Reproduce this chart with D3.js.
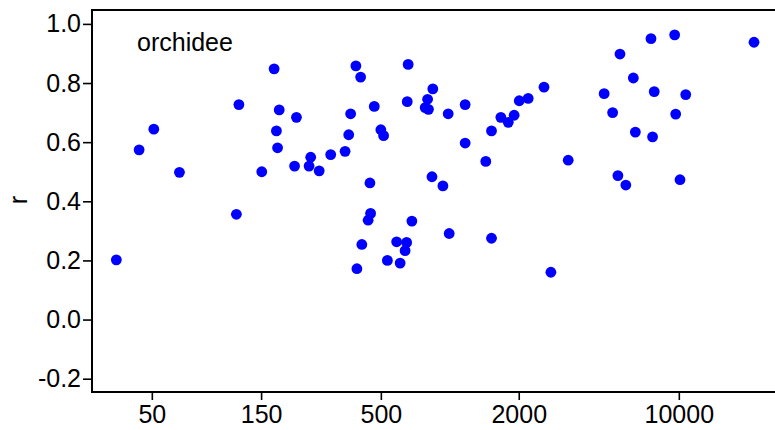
<!DOCTYPE html>
<meta charset="utf-8">
<style>
  body { margin: 0; background: #fff; }
  text { font-family: "Liberation Sans", Arial, sans-serif; fill: #000; }
</style>
<svg width="775" height="430"></svg>
<script src="https://d3js.org/d3.v7.min.js"></script>
<script>

// data (x on log scale)
var xVals = [35, 44, 51, 66, 117, 120, 151, 171, 175, 177, 180, 210, 214, 243, 247, 269, 302,
  349, 362, 369, 389, 393, 408, 413, 440, 448, 451, 468, 500, 514, 534, 586, 607, 638, 648,
  652, 658, 683, 781, 800, 807, 836, 843, 933, 984, 994, 1167, 1167, 1436, 1521, 1521, 1671,
  1800, 1910, 2010, 2199, 2578, 2763, 3289, 4720, 5140, 5420, 5534, 5870, 6330, 6460, 7559,
  7680, 7810, 9590, 9690, 10120, 10720, 21300];
var rVals = [0.202, 0.574, 0.644, 0.498, 0.356, 0.727, 0.500, 0.848, 0.638, 0.581, 0.709, 0.519,
  0.684, 0.519, 0.549, 0.503, 0.558, 0.569, 0.625, 0.696, 0.858, 0.172, 0.820, 0.254, 0.336,
  0.462, 0.359, 0.721, 0.642, 0.622, 0.200, 0.263, 0.191, 0.233, 0.261, 0.737, 0.863, 0.333,
  0.717, 0.745, 0.711, 0.483, 0.780, 0.452, 0.696, 0.291, 0.727, 0.597, 0.535, 0.638, 0.275,
  0.684, 0.667, 0.691, 0.740, 0.748, 0.786, 0.160, 0.539, 0.764, 0.700, 0.487, 0.898, 0.455,
  0.817, 0.634, 0.950, 0.618, 0.771, 0.963, 0.695, 0.473, 0.761, 0.938];
var xTicks = [50, 150, 500, 2000, 10000];
var yTicks = [-0.2, 0.0, 0.2, 0.4, 0.6, 0.8, 1.0];
var panelLabel = "orchidee";

var svg = d3.select("svg"),
    width = +svg.attr("width"),
    height = +svg.attr("height");

var pLeft = 92, pTop = 10, pBottom = 392, pRight = 775;

var x = d3.scaleLog().domain([27.4, 26300]).range([pLeft, pRight]);
var y = d3.scaleLinear().domain([-0.245, 1.047]).range([pBottom, pTop]);

// frame: left, bottom, top (right side is off the picture)
svg.append("path")
    .attr("d", "M" + pRight + "," + pTop + "H" + pLeft + "V" + pBottom + "H" + pRight)
    .attr("fill", "none")
    .attr("stroke", "#000")
    .attr("stroke-width", 2);

var yAxis = svg.append("g")
    .attr("transform", "translate(" + pLeft + ",0)")
    .call(d3.axisLeft(y).tickValues(yTicks).tickSize(9).tickPadding(2)
      .tickFormat(function(d) { return d3.format(".1f")(d).replace("−", "-"); }));
yAxis.select(".domain").remove();
yAxis.selectAll("line").attr("stroke-width", 1.6);
yAxis.selectAll("text").style("font-size", "25px").attr("font-family", null).attr("fill", null);

var xAxis = svg.append("g")
    .attr("transform", "translate(0," + pBottom + ")")
    .call(d3.axisBottom(x).tickValues(xTicks).tickSize(8).tickPadding(5)
      .tickFormat(d3.format("d")));
xAxis.select(".domain").remove();
xAxis.selectAll("line").attr("stroke-width", 1.6);
xAxis.selectAll("text").style("font-size", "25px").attr("font-family", null).attr("fill", null);

svg.append("text")
    .attr("transform", "translate(27,200) rotate(-90)")
    .attr("text-anchor", "middle")
    .style("font-size", "25px")
    .text("r");

svg.append("text")
    .attr("x", 137)
    .attr("y", 51)
    .style("font-size", "25px")
    .text(panelLabel);

var pts = xVals.map(function(d, i) { return {x: d, r: rVals[i]}; });

svg.append("g")
  .selectAll("circle")
  .data(pts)
  .enter()
  .append("circle")
    .attr("cx", function(d) { return x(d.x); })
    .attr("cy", function(d) { return y(d.r); })
    .attr("r", 5.4)
    .attr("fill", "#0000ff");

</script>
